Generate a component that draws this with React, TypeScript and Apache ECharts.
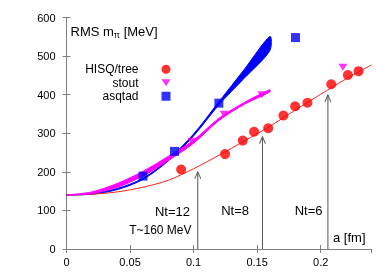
import React, { useEffect, useRef } from "react";
import * as echarts from "echarts";

// Data points
const hisqA = [0.0902, 0.1248, 0.1387, 0.1476, 0.1587, 0.1707, 0.1799, 0.1896, 0.2083, 0.2214, 0.2298];
const hisqM = [206, 246, 281, 304, 313, 346, 370, 379, 427, 451, 461];

const stoutA = [0.0986, 0.124, 0.1537, 0.2175];
const stoutM = [279, 349, 400, 471];

const asqA = [0.0602, 0.085, 0.1199, 0.1802];
const asqM = [189, 253, 378, 548];

// Fit curves
const hisqFitA = [0, 0.02, 0.04, 0.06, 0.08, 0.1, 0.12, 0.14, 0.16, 0.18, 0.2, 0.22, 0.24];
const hisqFitM = [140, 142, 148, 160, 178, 208, 243, 280, 318, 360, 401, 441, 477];

const bandA = [0, 0.02, 0.04, 0.06, 0.08, 0.1, 0.12, 0.14, 0.16];
const asqLo = [140, 142, 154, 180, 228, 293, 374, 443, 514];
const asqHi = [140, 144, 157, 183, 232, 298, 382, 466, 551];
const stoutLo = [140, 144, 160, 189, 229, 274, 333, 375, 407];
const stoutHi = [140, 148, 170, 201, 240, 282, 339, 380, 413];

// Arrows (a position, top value)
const arrowA = [0.1033, 0.1542, 0.2057];
const arrowTop = [200, 291, 399];

const FONT = "'Liberation Sans', Arial, Helvetica, sans-serif";
const AXIS = "#808080";

function band(a: number[], lo: number[], hi: number[], color: string, z: number) {
  return {
    type: "custom",
    data: a.map((x, i) => [x, lo[i], hi[i]]),
    encode: { x: 0, y: [1, 2] },
    silent: true,
    z,
    renderItem: (params: any, api: any) => {
      if (params.dataIndex !== 0) return null;
      const upper = a.map((x, i) => api.coord([x, hi[i]]));
      const lowerAll = a.map((x, i) => api.coord([x, lo[i]]));
      const lower = (lo[0] === hi[0] ? lowerAll.slice(1) : lowerAll).reverse();
      return {
        type: "polygon",
        shape: { points: upper.concat(lower), smooth: 0.3 },
        style: { fill: color, stroke: color, lineWidth: 1 },
        silent: true,
      };
    },
  };
}

export default function App() {
  const ref = useRef<HTMLDivElement>(null);
  useEffect(() => {
    const chart = echarts.init(ref.current!, null, { renderer: "svg" });
    const arrowSeries = arrowA.map((a, i) => ({
      type: "line",
      data: [
        [a, 0],
        {
          value: [a, arrowTop[i]],
          symbol: "path://M0,10L5,0L10,10",
          symbolSize: [6, 7],
          symbolOffset: [0, 3.5],
          itemStyle: { color: "none", borderColor: "#555", borderWidth: 1 },
        },
      ],
      symbol: "none",
      showSymbol: true,
      lineStyle: { color: "#555", width: 1 },
      silent: true,
      z: 1,
    }));
    const txt = (x: number, y: number, text: string, size = 13) => ({
      type: "text",
      x,
      y,
      style: { text, align: "right", verticalAlign: "middle", fontSize: size, fontFamily: FONT, fill: "#000" },
    });
    const option: any = {
      animation: false,
      textStyle: { fontFamily: FONT },
      grid: { left: 66.5, top: 17.5, right: 20.5, bottom: 26, containLabel: false },
      xAxis: [
        {
          type: "value",
          min: 0,
          max: 0.24,
          interval: 0.05,
          axisLine: { show: true, lineStyle: { color: AXIS } },
          axisTick: { show: true, inside: true, length: 4, lineStyle: { color: AXIS } },
          axisLabel: { color: "#000", fontSize: 11, margin: 7, showMaxLabel: false, fontFamily: FONT },
          splitLine: { show: false },
        },
        {
          type: "value",
          position: "top",
          min: 0,
          max: 0.24,
          interval: 0.05,
          axisLine: { show: true, lineStyle: { color: AXIS } },
          axisTick: { show: true, inside: true, length: 4, lineStyle: { color: AXIS } },
          axisLabel: { show: false },
          splitLine: { show: false },
        },
      ],
      yAxis: [
        {
          type: "value",
          min: 0,
          max: 600,
          interval: 100,
          axisLine: { show: true, lineStyle: { color: AXIS } },
          axisTick: { show: true, inside: true, length: 4, lineStyle: { color: AXIS } },
          axisLabel: { color: "#000", fontSize: 11, margin: 11, fontFamily: FONT },
          splitLine: { show: false },
        },
        {
          type: "value",
          position: "right",
          min: 0,
          max: 600,
          interval: 100,
          axisLine: { show: true, lineStyle: { color: AXIS } },
          axisTick: { show: true, inside: true, length: 4, lineStyle: { color: AXIS } },
          axisLabel: { show: false },
          splitLine: { show: false },
        },
      ],
      legend: {
        data: ["HISQ/tree", "stout", "asqtad"],
        orient: "vertical",
        align: "right",
        right: 221.5,
        top: 62.5,
        itemWidth: 9,
        itemHeight: 9,
        itemGap: 0,
        padding: 0,
        selectedMode: false,
        textStyle: { color: "#000", fontSize: 12, fontFamily: FONT, lineHeight: 13.5, padding: [0, 18, 0, 0] },
      },
      graphic: [
        {
          type: "text",
          x: 70.5,
          y: 31.5,
          style: {
            text: "RMS m{s|π} [MeV]",
            fontSize: 13,
            fontFamily: FONT,
            fill: "#000",
            verticalAlign: "middle",
            lineHeight: 15,
            rich: { s: { fontSize: 9, lineHeight: 9, verticalAlign: "bottom", fontFamily: FONT, fill: "#000" } },
          },
        },
        txt(190, 211.5, "Nt=12"),
        txt(191.5, 230, "T~160 MeV", 12),
        txt(249, 210.5, "Nt=8"),
        txt(322.5, 210, "Nt=6"),
        txt(365.5, 237.5, "a [fm]"),
      ],
      series: [
        ...arrowSeries,
        {
          type: "line",
          data: hisqFitA.map((a, i) => [a, hisqFitM[i]]),
          smooth: 0.3,
          symbol: "none",
          lineStyle: { color: "#ff2020", width: 1 },
          silent: true,
          z: 2,
        },
        band(bandA, asqLo, asqHi, "#0000ff", 2),
        band(bandA, stoutLo, stoutHi, "#ff00ff", 3),
        {
          name: "HISQ/tree",
          type: "scatter",
          data: hisqA.map((a, i) => [a, hisqM[i]]),
          symbol: "circle",
          symbolSize: 10,
          itemStyle: { color: "#ff0000" },
          z: 5,
        },
        {
          name: "stout",
          type: "scatter",
          data: stoutA.map((a, i) => [a, stoutM[i]]),
          symbol: "path://M0,0L10,0L5,8Z",
          symbolSize: [9, 7],
          itemStyle: { color: "#ff00ff" },
          z: 5,
        },
        {
          name: "asqtad",
          type: "scatter",
          data: asqA.map((a, i) => [a, asqM[i]]),
          symbol: "rect",
          symbolSize: 9,
          itemStyle: { color: "#0000ff" },
          z: 5,
        },
      ],
    };
    chart.setOption(option);
    return () => chart.dispose();
  }, []);
  return <div ref={ref} style={{ position: "fixed", left: 0, top: 0, width: 392, height: 275 }} />;
}
